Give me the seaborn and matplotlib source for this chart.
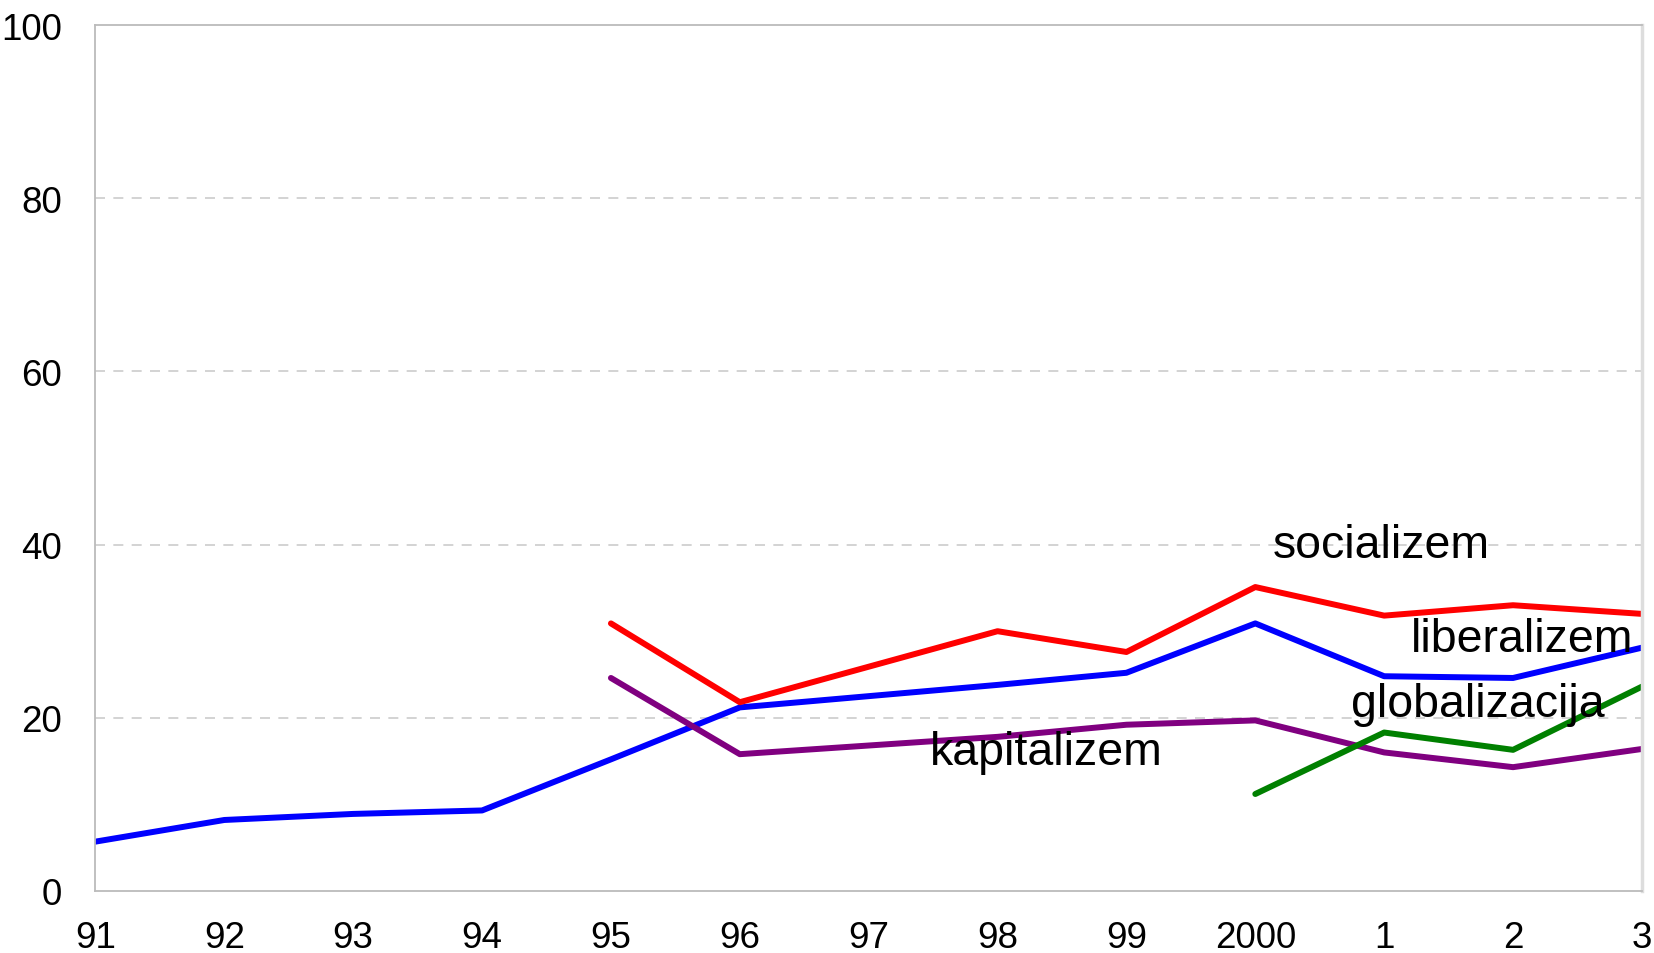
import numpy as np
import pandas as pd
import matplotlib
matplotlib.use("Agg")
import matplotlib.pyplot as plt
import seaborn as sns

years = ["91", "92", "93", "94", "95", "96", "97", "98", "99", "2000", "1", "2", "3"]
nan = np.nan
liberalizem = [5.7, 8.2, 8.9, 9.3, 15.2, 21.2, nan, 23.8, 25.2, 30.9, 24.8, 24.6, 28.1]
socializem = [nan, nan, nan, nan, 30.9, 21.8, nan, 30.0, 27.6, 35.1, 31.8, 33.0, 32.0]
kapitalizem = [nan, nan, nan, nan, 24.6, 15.8, nan, 17.8, 19.2, 19.7, 16.0, 14.3, 16.4]
globalizacija = [nan, nan, nan, nan, nan, nan, nan, nan, nan, 11.2, 18.3, 16.3, 23.6]

series = {
    "liberalizem": liberalizem,
    "socializem": socializem,
    "kapitalizem": kapitalizem,
    "globalizacija": globalizacija,
}
colors = {"liberalizem": "#0000ff", "socializem": "#ff0000",
          "kapitalizem": "#800080", "globalizacija": "#008000"}

rows = []
for name, vals in series.items():
    for i, v in enumerate(vals):
        rows.append({"x": i, "value": v, "series": name})
df = pd.DataFrame(rows).dropna()

sns.set_theme(style="white")
plt.rcParams['font.family'] = ['Liberation Sans', 'DejaVu Sans']

fig = plt.figure(figsize=(16.54, 9.54), dpi=100)
ax = fig.add_axes([0.0577, 0.065, 0.935, 0.9077])

sns.lineplot(data=df, x="x", y="value", hue="series", palette=colors,
             linewidth=4.3, ax=ax, legend=False, sort=True)

ax.set_xlim(0, len(years) - 1)
ax.set_ylim(0, 100)
ax.set_xticks(range(len(years)))
ax.set_xticklabels(years)
ax.set_yticks([0, 20, 40, 60, 80, 100])
ax.set_xlabel("")
ax.set_ylabel("")
ax.tick_params(axis="x", labelsize=26.5, pad=21, length=0)
ax.tick_params(axis="y", labelsize=26.5, pad=24, length=0)
for t in ax.get_xticklabels() + ax.get_yticklabels():
    t.set_color("black")

for y in [20, 40, 60, 80]:
    ax.axhline(y, color="#cccccc", linestyle=(0, (6, 5)), linewidth=1.2, zorder=0)

for s in ["left", "bottom", "top"]:
    ax.spines[s].set_color("#bbbbbb")
    ax.spines[s].set_linewidth(1.3)
ax.spines["right"].set_color("#dddddd")
ax.spines["right"].set_linewidth(2.5)

labels = [
    ("socializem", 9.98, 40.0),
    ("liberalizem", 11.07, 29.1),
    ("globalizacija", 10.73, 21.6),
    ("kapitalizem", 7.38, 16.1),
]
for txt, x, y in labels:
    ax.text(x, y, txt, fontsize=33.5, ha="center", va="center", color="black", zorder=5)

fig.savefig("out.png", dpi=100)
